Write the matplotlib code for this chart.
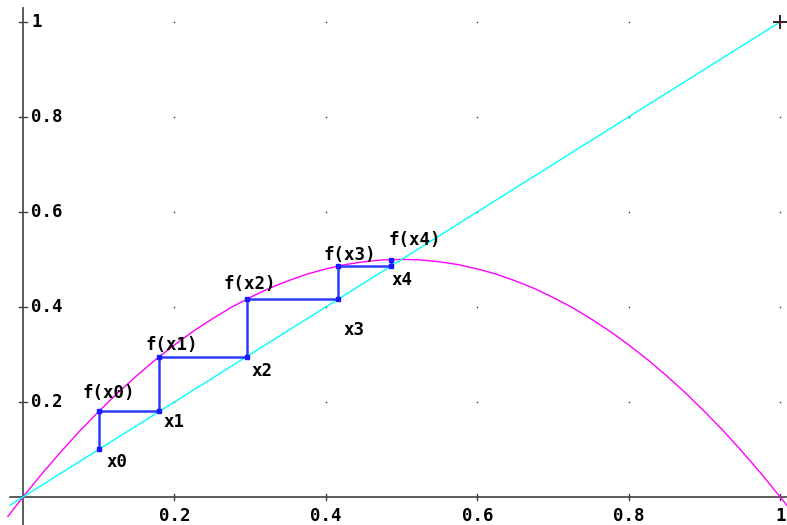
import numpy as np
import matplotlib
matplotlib.use("Agg")
import matplotlib.pyplot as plt

# parabola
curve_x = [-0.02, 0.0, 0.025, 0.05, 0.075, 0.1, 0.125, 0.15, 0.175, 0.2, 0.225, 0.25,
           0.275, 0.3, 0.325, 0.35, 0.375, 0.4, 0.425, 0.45, 0.475, 0.5,
           0.525, 0.55, 0.575, 0.6, 0.625, 0.65, 0.675, 0.7, 0.725, 0.75,
           0.775, 0.8, 0.825, 0.85, 0.875, 0.9, 0.925, 0.95, 0.975, 1.0, 1.01]
curve_y = [-0.041, 0.0, 0.049, 0.095, 0.139, 0.18, 0.219, 0.255, 0.289, 0.32, 0.349, 0.375,
           0.399, 0.42, 0.439, 0.455, 0.469, 0.48, 0.489, 0.495, 0.499, 0.5,
           0.499, 0.495, 0.489, 0.48, 0.469, 0.455, 0.439, 0.42, 0.399, 0.375,
           0.349, 0.32, 0.289, 0.255, 0.219, 0.18, 0.139, 0.095, 0.049, 0.0, -0.02]

# diagonal y = x
diag_x = [-0.017, 1.0]
diag_y = [-0.017, 1.0]

# iterates x0..x4 and their images f(x0)..f(x4)
iter_x = [0.1, 0.18, 0.2952, 0.4161, 0.4859]
iter_f = [0.18, 0.2952, 0.4161, 0.4859, 0.4996]

x_labels = ["x0", "x1", "x2", "x3", "x4"]
f_labels = ["f(x0)", "f(x1)", "f(x2)", "f(x3)", "f(x4)"]
x_label_pos = [(0.110, 0.074), (0.186, 0.158), (0.302, 0.265), (0.423, 0.352), (0.487, 0.457)]
f_label_pos = [(0.079, 0.219), (0.162, 0.32), (0.265, 0.448), (0.397, 0.509), (0.483, 0.541)]

tick_vals = [0.2, 0.4, 0.6, 0.8, 1.0]
tick_text = ["0.2", "0.4", "0.6", "0.8", "1"]

font = dict(family="DejaVu Sans Mono", fontweight="bold", fontsize=12.5)

fig = plt.figure(figsize=(7.87, 5.25), dpi=100)
ax = fig.add_axes([0, 0, 1, 1])
ax.set_xlim(-0.0304, 1.009)
ax.set_ylim(-0.059, 1.046)
ax.axis("off")

# axes through the origin
ax.plot([-0.017, 1.009], [0, 0], color="#404040", lw=1.2, zorder=1)
ax.plot([0, 0], [-0.059, 1.03], color="#404040", lw=1.2, zorder=1)

# tick marks and labels
for v, t in zip(tick_vals, tick_text):
    ax.plot([v, v], [-0.007, 0.007], color="#404040", lw=1)
    ax.plot([-0.005, 0.005], [v, v], color="#404040", lw=1)
    ax.text(v, -0.041, t, ha="center", va="center", **font)
    ax.text(0.011, v, t, ha="left", va="center", **font)

# grid dots
for gx in tick_vals:
    for gy in tick_vals:
        if gx == 1.0 and gy == 1.0:
            continue
        ax.plot(gx, gy, marker="s", ms=1, color="#303030", mec="none")
ax.plot(1.0, 1.0, marker="+", ms=10, mew=1.2, color="black", zorder=5)
ax.plot(1.0, 1.0, marker="s", ms=2, color="red", mec="none", zorder=6)

ax.plot(curve_x, curve_y, color="#ff00ff", lw=1, zorder=2)
ax.plot(diag_x, diag_y, color="#00ffff", lw=1, zorder=2)

# cobweb
web_x, web_y = [], []
for i, (xv, fv) in enumerate(zip(iter_x, iter_f)):
    web_x += [xv, xv]
    web_y += [xv, fv]
    if i < len(iter_x) - 1:
        web_x.append(iter_x[i + 1])
        web_y.append(fv)
ax.plot(web_x, web_y, color="#2b3cff", lw=1.8, zorder=3)
ax.plot(iter_x, iter_x, ls="none", marker="s", ms=3.5, color="#1a1aff", zorder=4)
ax.plot(iter_x, iter_f, ls="none", marker="s", ms=3.5, color="#1a1aff", zorder=4)

for lab, (px, py) in zip(x_labels, x_label_pos):
    ax.text(px, py, lab, ha="left", va="center", **font)
for lab, (px, py) in zip(f_labels, f_label_pos):
    ax.text(px, py, lab, ha="left", va="center", **font)

fig.savefig("out.png", dpi=100, facecolor="white")
